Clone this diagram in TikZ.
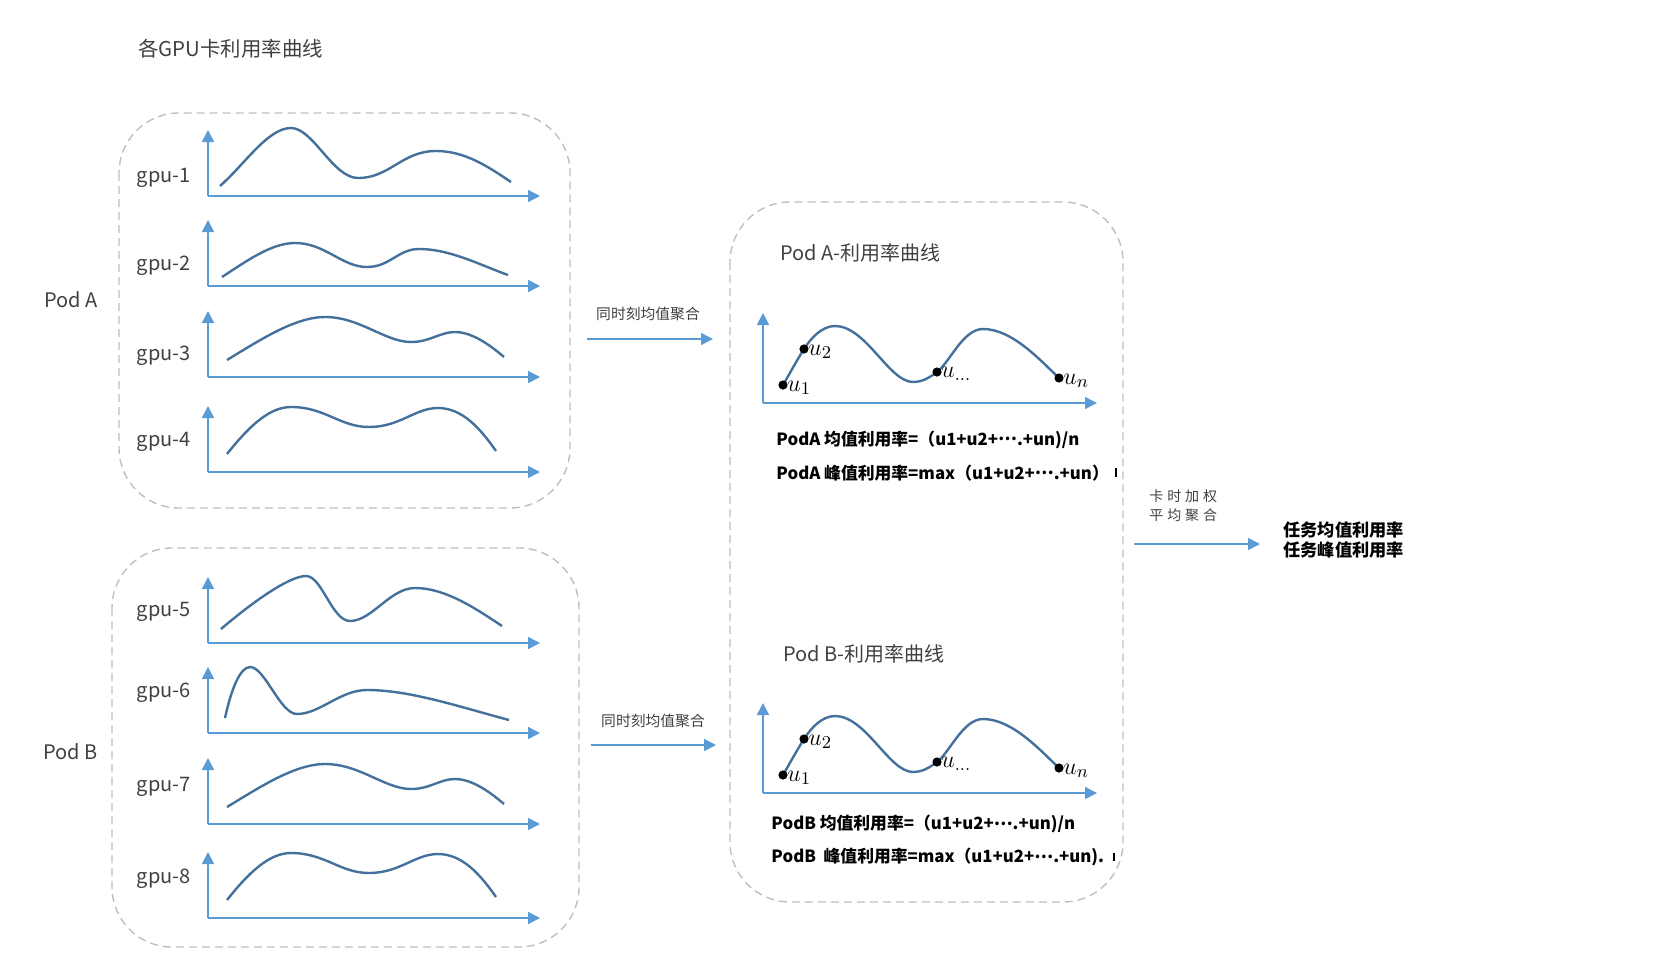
\documentclass[tikz,border=0pt]{standalone}
\usepackage{fontspec}
\setmainfont{Noto Sans CJK SC}
\usetikzlibrary{arrows.meta}
\definecolor{axisblue}{HTML}{5B9BD5}
\definecolor{curveblue}{HTML}{44709C}
\definecolor{boxgray}{HTML}{BFBFBF}
\definecolor{txtgray}{HTML}{404040}
\newcommand\mdots{\raisebox{0.27em}{⋯}}
\newcommand\gpuchart[4]{%
  \coordinate (#1o) at (208,#2);
  \coordinate (#1x) at (540,#2);
  \coordinate (#1y) at (208,{#2-66});
  \draw[axisline] (#1o) -- (#1x);
  \draw[axisline] (#1o) -- (#1y);
  \node[gpulbl] (#1l) at (191,#3) {#4};
}
\newcommand\podchart[1]{%
  \coordinate (#1o) at (763,403);
  \coordinate (#1x) at (1097,403);
  \coordinate (#1y) at (763,313);
  \draw[axisline] (#1o) -- (#1x);
  \draw[axisline] (#1o) -- (#1y);
  \draw[curveline] (783,385) .. controls (790,373) and (797,360) .. (804,349)
     .. controls (811,338) and (822,326) .. (835,326)
     .. controls (866,326) and (889,382) .. (913,382)
     .. controls (922,382) and (929,378) .. (937,372)
     .. controls (950,362) and (963,329) .. (983,329)
     .. controls (1012,329) and (1040,360) .. (1059,378);
  \node[udot] (#1u1) at (783,385) {};
  \node[udot] (#1u2) at (804,349) {};
  \node[udot] (#1um) at (937,372) {};
  \node[udot] (#1un) at (1059,378) {};
  \node[ulbl] (#1l1) at (787,391) {$u_1$};
  \node[ulbl] (#1l2) at (808,355) {$u_2$};
  \node[ulbl] (#1lm) at (941,377) {$u_{\ldots}$};
  \node[ulbl] (#1ln) at (1063,384) {$u_n$};
}
\begin{document}
\begin{tikzpicture}[x=0.5pt,y=-0.5pt,
  podbox/.style={draw=boxgray, line width=0.7pt, dash pattern=on 4pt off 2.5pt, rounded corners=30pt},
  axisline/.style={draw=axisblue, line width=0.8pt, -{Triangle[length=6pt,width=6pt]}},
  curveline/.style={draw=curveblue, line width=1.2pt},
  udot/.style={circle, fill=black, inner sep=0pt, minimum size=4.6pt},
  ulbl/.style={anchor=base west, inner sep=0pt, font=\fontsize{13}{15}\selectfont},
  gpulbl/.style={anchor=east, inner sep=0pt, font=\fontsize{10}{12}\selectfont, text=txtgray},
  podlbl/.style={anchor=west, inner sep=0pt, font=\fontsize{10}{12}\selectfont, text=txtgray},
  formula/.style={anchor=west, inner sep=0pt, font=\bfseries\fontsize{8.4}{10}\selectfont},
  small/.style={inner sep=0pt, font=\fontsize{7.4}{9}\selectfont, text=txtgray}]
\useasboundingbox (0,0) rectangle (1668,974);

\node[anchor=west, inner sep=0pt, font=\fontsize{10.2}{13}\selectfont, text=txtgray] (title) at (138,49) {各GPU卡利用率曲线};

% pod boxes
\draw[podbox] (119,113) rectangle (570,508);
\draw[podbox] (112,548) rectangle (579,947);
\draw[podbox] (730,202) rectangle (1123,902);

\node[podlbl] (podA) at (44,300) {Pod A};
\node[podlbl] (podB) at (43,752) {Pod B};

\gpuchart{g1}{196}{178}{gpu-1}
\draw[curveline] (220,186) .. controls (245,164) and (268,128) .. (291,128)
  .. controls (313,128) and (333,178) .. (358,178)
  .. controls (390,178) and (402,151) .. (436,151)
  .. controls (466,151) and (490,168) .. (511,182);
\gpuchart{g2}{286}{266}{gpu-2}
\draw[curveline] (222,277) .. controls (248,260) and (272,243) .. (295,243)
  .. controls (325,243) and (342,267) .. (367,267)
  .. controls (390,267) and (398,249) .. (419,249)
  .. controls (450,249) and (480,265) .. (508,275);
\gpuchart{g3}{377}{356}{gpu-3}
\draw[curveline] (227,360) .. controls (260,340) and (295,317) .. (325,317)
  .. controls (360,317) and (385,342) .. (411,342)
  .. controls (430,342) and (440,332) .. (455,332)
  .. controls (472,332) and (490,345) .. (504,357);
\gpuchart{g4}{472}{442}{gpu-4}
\draw[curveline] (227,454) .. controls (250,425) and (270,407) .. (291,407)
  .. controls (325,407) and (340,427) .. (369,427)
  .. controls (400,427) and (415,408) .. (438,408)
  .. controls (462,408) and (480,428) .. (496,451);
\gpuchart{g5}{643}{612}{gpu-5}
\draw[curveline] (221,629) .. controls (255,600) and (290,576) .. (306,576)
  .. controls (322,576) and (332,621) .. (350,621)
  .. controls (372,621) and (390,588) .. (415,588)
  .. controls (445,588) and (475,608) .. (502,626);
\gpuchart{g6}{733}{693}{gpu-6}
\draw[curveline] (225,718) .. controls (231,690) and (240,667) .. (250,667)
  .. controls (265,667) and (280,714) .. (297,714)
  .. controls (320,714) and (340,690) .. (367,690)
  .. controls (410,690) and (460,707) .. (509,720);
\gpuchart{g7}{824}{787}{gpu-7}
\draw[curveline] (227,807) .. controls (260,787) and (295,764) .. (325,764)
  .. controls (360,764) and (385,789) .. (411,789)
  .. controls (430,789) and (440,779) .. (455,779)
  .. controls (472,779) and (490,792) .. (504,804);
\gpuchart{g8}{918}{879}{gpu-8}
\draw[curveline] (227,900) .. controls (250,871) and (270,853) .. (291,853)
  .. controls (325,853) and (340,873) .. (369,873)
  .. controls (400,873) and (415,854) .. (438,854)
  .. controls (462,854) and (480,874) .. (496,897);

% aggregation arrows
\node[small] (aggA) at (648,314) {同时刻均值聚合};
\coordinate (aA1) at (587,339);
\coordinate (aA2) at (713,339);
\draw[axisline] (aA1) -- (aA2);
\node[small] (aggB) at (653,721) {同时刻均值聚合};
\coordinate (aB1) at (591,745);
\coordinate (aB2) at (716,745);
\draw[axisline] (aB1) -- (aB2);

% pod charts
\node[podlbl] (tA) at (780,253) {Pod A-利用率曲线};
\podchart{pa}
\node[formula] (fA1) at (776,440) {PodA 均值利用率=（u1+u2+\mdots.+un)/n};
\node[formula] (fA2) at (776,473) {PodA 峰值利用率=max（u1+u2+\mdots.+un）};

\node[podlbl] (tB) at (783,654) {Pod B-利用率曲线};
\begin{scope}[yshift=-195pt]
\podchart{pb}
\end{scope}
\node[formula] (fB1) at (771,824) {PodB 均值利用率=（u1+u2+\mdots.+un)/n};
\node[formula] (fB2) at (771,857) {PodB\ \ 峰值利用率=max（u1+u2+\mdots.+un).};

\draw[line width=1.2pt] (1116,468) -- (1116,477);
\draw[line width=1.2pt] (1114,853) -- (1114,861);

% final aggregation
\node[small, anchor=west, font=\fontsize{7}{9}\selectfont\addfontfeatures{LetterSpace=28}] (w1) at (1149,496) {卡时加权};
\node[small, anchor=west, font=\fontsize{7}{9}\selectfont\addfontfeatures{LetterSpace=28}] (w2) at (1149,515) {平均聚合};
\coordinate (aC1) at (1134,544);
\coordinate (aC2) at (1260,544);
\draw[axisline] (aC1) -- (aC2);
\node[formula, font=\bfseries\fontsize{8.6}{10}\selectfont] (r1) at (1283,530) {任务均值利用率};
\node[formula, font=\bfseries\fontsize{8.6}{10}\selectfont] (r2) at (1283,550) {任务峰值利用率};
\end{tikzpicture}
\end{document}
